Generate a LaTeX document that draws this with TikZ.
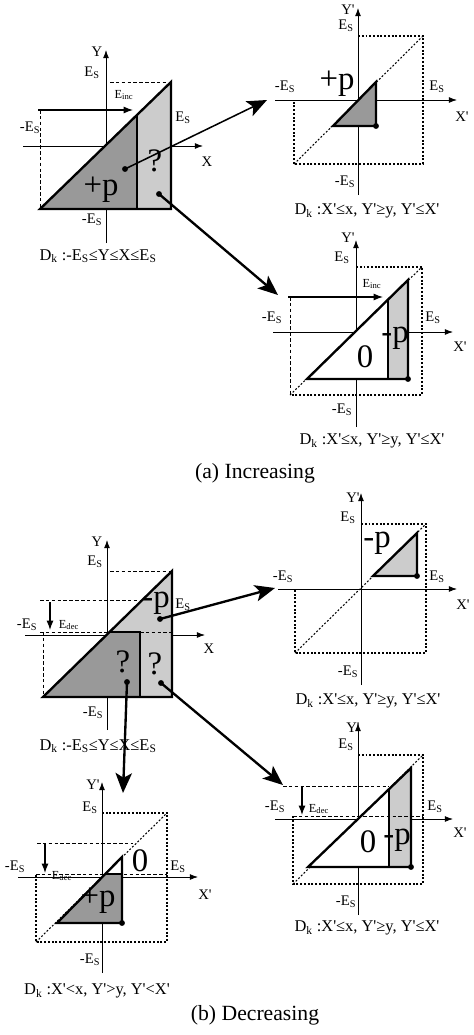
\documentclass[tikz,border=0pt]{standalone}
\usepackage{fontspec}
\setmainfont{Liberation Serif}[Ligatures=TeXOff]
\usetikzlibrary{arrows.meta}

\definecolor{darkfill}{gray}{0.6}
\definecolor{lightfill}{gray}{0.8}
\newcommand{\Es}{E\textsubscript{S}}
\newcommand{\Einc}{E\textsubscript{inc}}
\newcommand{\Edec}{E\textsubscript{dec}}

\begin{document}
\begin{tikzpicture}[
    x=0.03cm, y=-0.03cm,
    every node/.style={inner sep=0pt},
    lbl/.style={font=\fontsize{12.5}{14}\selectfont},
    big/.style={font=\fontsize{28}{30}\selectfont},
    dom/.style={font=\fontsize{14}{16}\selectfont},
    captext/.style={font=\fontsize{18.5}{21}\selectfont},
    small/.style={font=\fontsize{10.5}{12}\selectfont},
    axis/.style={line width=0.6pt, -{Latex[length=7pt,width=5pt]}},
    thickedge/.style={line width=2pt, line join=miter},
    guide/.style={line width=0.6pt, dash pattern=on 3pt off 2pt},
    box/.style={line width=0.9pt, dash pattern=on 1.6pt off 1.6pt},
    dot/.style={circle, fill, minimum size=5pt},
    jump/.style={line width=2pt, -{Stealth[length=17pt,width=14pt,inset=4pt]}},
    shiftarrow/.style={line width=1pt, -{Latex[length=8pt,width=6pt]}}
]
\useasboundingbox (0,0) rectangle (473,1035);

% ---------------- (a) Increasing ----------------

% Panel 1: whole domain
\draw[axis] (106,243) -- (106,50);
\draw[axis] (23,146) -- (203,146);
\fill[lightfill] (137,115) -- (171,82) -- (171,209) -- (137,209) -- cycle;
\fill[darkfill] (40,209) -- (137,115) -- (137,209) -- cycle;
\draw[thickedge] (40,209) -- (171,82) -- (171,209) -- cycle;
\draw[thickedge] (137,115) -- (137,209);
\draw[guide] (110,82) -- (171,82);
\draw[guide] (40,110) -- (40,209);
\draw[shiftarrow] (38,110) -- (133,110);

\node[lbl] (p1_y) at (97,52) {Y};
\node[lbl] (p1_x) at (207,162) {X};
\node[lbl] (p1_es_top) at (92,73) {\Es};
\node[lbl] (p1_es_left) at (30,128) {-\Es};
\node[lbl] (p1_es_right) at (183,118) {\Es};
\node[lbl] (p1_es_bottom) at (92,220) {-\Es};
\node[small] (p1_einc) at (124,95) {\Einc};
\node[big] (p1_plus) at (101,190) {+p};
\node[big] (p1_quest) at (155,161) {?};
\node[dom] (p1_dom) at (98,256) {D\textsubscript{k} :-\Es≤Y≤X≤\Es};
\node[dot] (p1_dot_a) at (125,169) {};
\node[dot] (p1_dot_b) at (159,194) {};

% Panel 2: +p part
\draw[axis] (358,195) -- (358,8);
\draw[axis] (275,100) -- (457,100);
\draw[box] (358,36) -- (423,36) -- (423,164) -- (294,164) -- (294,100);
\draw[box] (294,164) -- (423,36);
\fill[darkfill] (333,126) -- (376,82) -- (376,126) -- cycle;
\draw[thickedge] (333,126) -- (376,82) -- (376,126) -- cycle;

\node[lbl] (p2_y) at (348,10) {Y'};
\node[lbl] (p2_x) at (462,117) {X'};
\node[lbl] (p2_es_top) at (346,26) {\Es};
\node[lbl] (p2_es_left) at (285,87) {-\Es};
\node[lbl] (p2_es_right) at (437,87) {\Es};
\node[lbl] (p2_es_bottom) at (345,182) {-\Es};
\node[big] (p2_plus) at (337,84) {+p};
\node[dom] (p2_dom) at (367,211) {D\textsubscript{k} :X'≤x, Y'≥y, Y'≤X'};
\node[dot] (p2_dot) at (376,126) {};
\coordinate (p2_in) at (267,100);

% Panel 3: ? part
\draw[axis] (356,427) -- (356,240);
\draw[axis] (273,332) -- (453,332);
\draw[box] (356,267) -- (422,267) -- (422,395) -- (290,395);
\draw[box] (290,395) -- (422,267);
\draw[guide] (290,297) -- (290,395);
\fill[white] (307,379) -- (408,280) -- (408,379) -- cycle;
\fill[lightfill] (388,299) -- (408,280) -- (408,379) -- (388,379) -- cycle;
\draw[thickedge] (307,379) -- (408,280) -- (408,379) -- cycle;
\draw[thickedge] (388,299) -- (388,379);
\draw[shiftarrow] (288,297) -- (383,297);

\node[lbl] (p3_y) at (348,238) {Y'};
\node[lbl] (p3_x) at (460,347) {X'};
\node[lbl] (p3_es_top) at (342,258) {\Es};
\node[lbl] (p3_es_left) at (272,318) {-\Es};
\node[lbl] (p3_es_right) at (433,318) {\Es};
\node[lbl] (p3_es_bottom) at (342,410) {-\Es};
\node[small] (p3_einc) at (372,284) {\Einc};
\node[big] (p3_zero) at (365,357) {0};
\node[big] (p3_minus) at (395,338) {-p};
\node[dom] (p3_dom) at (372,441) {D\textsubscript{k} :X'≤x, Y'≥y, Y'≤X'};
\node[dot] (p3_dot) at (408,379) {};
\coordinate (p3_in) at (278,295);

\node[captext] (cap_a) at (255,473) {(a) Increasing};

% ---------------- (b) Decreasing ----------------

% Panel 4: whole domain
\draw[axis] (107,730) -- (107,540);
\draw[axis] (25,635) -- (205,635);
\fill[lightfill] (43,697) -- (172,571) -- (172,697) -- cycle;
\fill[darkfill] (43,697) -- (110,632) -- (140,632) -- (140,697) -- cycle;
\draw[thickedge] (43,697) -- (172,571) -- (172,697) -- cycle;
\draw[thickedge] (110,632) -- (140,632) -- (140,697);
\draw[guide] (110,571) -- (172,571);
\draw[guide] (40,600) -- (140,600);
\draw[guide] (40,632) -- (110,632);
\draw[guide] (140,632) -- (172,632);
\draw[guide] (43,632) -- (43,697);
\draw[shiftarrow] (50,602) -- (50,630);

\node[lbl] (p4_y) at (97,542) {Y};
\node[lbl] (p4_x) at (209,649) {X};
\node[lbl] (p4_es_top) at (95,562) {\Es};
\node[lbl] (p4_es_left) at (27,625) {-\Es};
\node[lbl] (p4_es_right) at (183,605) {\Es};
\node[lbl] (p4_es_bottom) at (93,713) {-\Es};
\node[small] (p4_edec) at (69,625) {\Edec};
\node[big] (p4_minus) at (156,603) {-p};
\node[big] (p4_quest_a) at (123,662) {?};
\node[big] (p4_quest_b) at (155,664) {?};
\node[dom] (p4_dom) at (98,746) {D\textsubscript{k} :-\Es≤Y≤X≤\Es};
\node[dot] (p4_dot_a) at (160,619) {};
\node[dot] (p4_dot_b) at (127,682) {};
\node[dot] (p4_dot_c) at (161,683) {};

% Panel 5: -p part
\draw[axis] (361,685) -- (361,493);
\draw[axis] (278,589) -- (457,589);
\draw[box] (361,524) -- (426,524) -- (426,653) -- (295,653) -- (295,589);
\draw[box] (295,653) -- (426,524);
\fill[lightfill] (373,576) -- (417,533) -- (417,576) -- cycle;
\draw[thickedge] (373,576) -- (417,533) -- (417,576) -- cycle;

\node[lbl] (p5_y) at (353,498) {Y'};
\node[lbl] (p5_x) at (463,605) {X'};
\node[lbl] (p5_es_top) at (348,518) {\Es};
\node[lbl] (p5_es_left) at (283,577) {-\Es};
\node[lbl] (p5_es_right) at (437,577) {\Es};
\node[lbl] (p5_es_bottom) at (348,672) {-\Es};
\node[big] (p5_minus) at (377,543) {-p};
\node[dom] (p5_dom) at (368,701) {D\textsubscript{k} :X'≤x, Y'≥y, Y'≤X'};
\node[dot] (p5_dot) at (417,576) {};
\coordinate (p5_in) at (275,588);

% Panel 6: light ? part
\draw[axis] (358,915) -- (358,723);
\draw[axis] (275,819) -- (453,819);
\draw[box] (358,755) -- (423,755) -- (423,884) -- (293,884) -- (293,816);
\draw[box] (293,884) -- (423,755);
\fill[white] (308,867) -- (411,768) -- (411,867) -- cycle;
\fill[lightfill] (389,789) -- (411,768) -- (411,867) -- (389,867) -- cycle;
\draw[thickedge] (308,867) -- (411,768) -- (411,867) -- cycle;
\draw[thickedge] (389,789) -- (389,867);
\draw[guide] (283,786) -- (389,786);
\draw[guide] (293,816) -- (423,816);
\draw[shiftarrow] (302,786) -- (302,815);

\node[lbl] (p6_y) at (353,728) {Y'};
\node[lbl] (p6_x) at (460,833) {X'};
\node[lbl] (p6_es_top) at (346,745) {\Es};
\node[lbl] (p6_es_left) at (275,807) {-\Es};
\node[lbl] (p6_es_right) at (435,807) {\Es};
\node[lbl] (p6_es_bottom) at (346,902) {-\Es};
\node[small] (p6_edec) at (319,809) {\Edec};
\node[big] (p6_zero) at (368,842) {0};
\node[big] (p6_minus) at (397,840) {-p};
\node[dom] (p6_dom) at (367,928) {D\textsubscript{k} :X'≤x, Y'≥y, Y'≤X'};
\node[dot] (p6_dot) at (411,867) {};
\coordinate (p6_in) at (283,785);

% Panel 7: dark ? part
\draw[axis] (102,973) -- (102,782);
\draw[axis] (18,877) -- (198,877);
\draw[box] (102,813) -- (167,813) -- (167,942) -- (36,942) -- (36,874);
\draw[box] (36,942) -- (167,813);
\fill[white] (105,874) -- (122,857) -- (122,874) -- cycle;
\fill[darkfill] (57,923) -- (105,874) -- (122,874) -- (122,923) -- cycle;
\draw[thickedge] (57,923) -- (122,857) -- (122,923) -- cycle;
\draw[thickedge] (105,874) -- (122,874);
\draw[guide] (37,843) -- (133,843);
\draw[guide] (36,874) -- (167,874);
\draw[shiftarrow] (45,843) -- (45,873);

\node[lbl] (p7_y) at (93,785) {Y'};
\node[lbl] (p7_x) at (205,895) {X'};
\node[lbl] (p7_es_top) at (90,808) {\Es};
\node[lbl] (p7_es_left) at (15,867) {-\Es};
\node[lbl] (p7_es_right) at (178,867) {\Es};
\node[lbl] (p7_es_bottom) at (90,960) {-\Es};
\node[small] (p7_edec) at (62,876) {\Edec};
\node[big] (p7_zero) at (140,861) {0};
\node[big] (p7_plus) at (98,901) {+p};
\node[dom] (p7_dom) at (97,991) {D\textsubscript{k} :X'<x, Y'>y, Y'<X'};
\node[dot] (p7_dot) at (122,923) {};
\coordinate (p7_in) at (123,793);

\node[captext] (cap_b) at (255,1015) {(b) Decreasing};

% Connections
\draw[jump, line width=1.3pt] (p1_dot_a.center) -- (p2_in);
\draw[jump] (p1_dot_b.center) -- (p3_in);
\draw[jump] (p4_dot_a.center) -- (p5_in);
\draw[jump] (p4_dot_c.center) -- (p6_in);
\draw[jump] (p4_dot_b.center) -- (p7_in);

\end{tikzpicture}
\end{document}
